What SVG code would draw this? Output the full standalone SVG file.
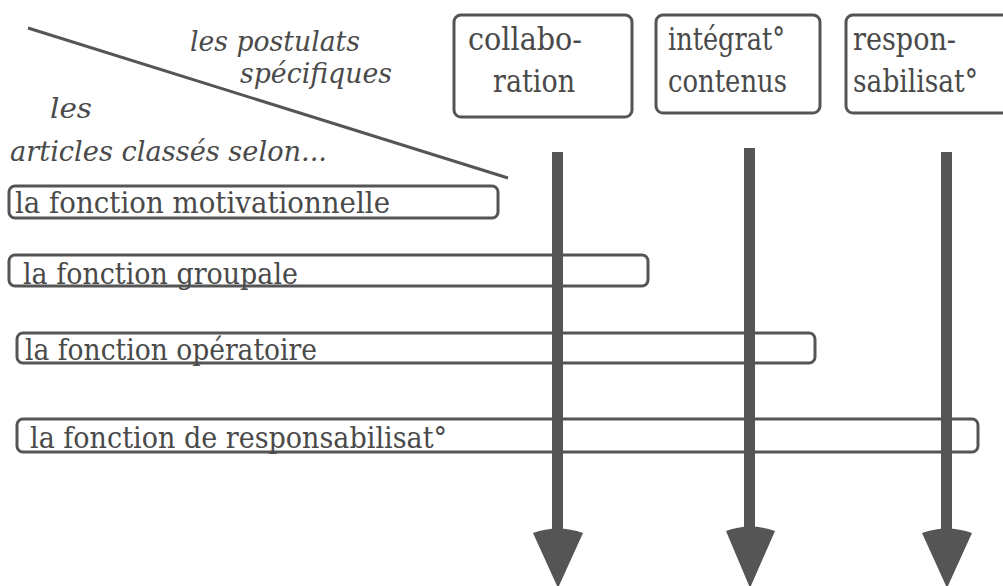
<svg xmlns="http://www.w3.org/2000/svg" width="1003" height="586" viewBox="0 0 1003 586">
<style>
.box{fill:none;stroke:#555;stroke-width:3}
text{font-family:'DejaVu Serif','Liberation Serif',serif;fill:#4a4a4a}
.f{font-size:29px}
.h{font-size:31px}
.i{font-size:28px;font-style:italic}
.shaft{fill:#555}
.head{fill:#555}
</style>
<rect width="1003" height="586" fill="#fff"/>
<g id="header">
<line x1="28" y1="28" x2="508" y2="178" stroke="#555" stroke-width="3"/>
<text class="i" x="190" y="51" textLength="170" lengthAdjust="spacingAndGlyphs">les postulats</text>
<text class="i" x="240" y="83" textLength="152" lengthAdjust="spacingAndGlyphs">spécifiques</text>
<text class="i" x="50" y="118" textLength="42" lengthAdjust="spacingAndGlyphs">les</text>
<text class="i" x="10" y="161" textLength="317" lengthAdjust="spacingAndGlyphs">articles classés selon...</text>
</g>
<g id="postulat-collaboration">
<rect class="box" x="454" y="15" width="178" height="102" rx="7"/>
<text class="h" x="468" y="50" textLength="114" lengthAdjust="spacingAndGlyphs">collabo-</text>
<text class="h" x="493" y="92" textLength="82" lengthAdjust="spacingAndGlyphs">ration</text>
</g>
<g id="postulat-integration">
<rect class="box" x="656" y="15" width="164" height="98" rx="7"/>
<text class="h" x="668" y="50" textLength="117" lengthAdjust="spacingAndGlyphs">intégrat°</text>
<text class="h" x="668" y="92" textLength="119" lengthAdjust="spacingAndGlyphs">contenus</text>
</g>
<g id="postulat-responsabilisation">
<rect class="box" x="846" y="15" width="170" height="98" rx="7"/>
<text class="h" x="853" y="50" textLength="103" lengthAdjust="spacingAndGlyphs">respon-</text>
<text class="h" x="853" y="92" textLength="125" lengthAdjust="spacingAndGlyphs">sabilisat°</text>
</g>
<g id="fonction-motivationnelle">
<rect class="box" x="9" y="186" width="489" height="32" rx="6"/>
<text class="f" x="15" y="213" textLength="375" lengthAdjust="spacingAndGlyphs">la fonction motivationnelle</text>
</g>
<g id="fonction-groupale">
<rect class="box" x="9" y="255" width="639" height="31" rx="6"/>
<text class="f" x="23" y="284" textLength="275" lengthAdjust="spacingAndGlyphs">la fonction groupale</text>
</g>
<g id="fonction-operatoire">
<rect class="box" x="17" y="333" width="798" height="30" rx="6"/>
<text class="f" x="25" y="360" textLength="292" lengthAdjust="spacingAndGlyphs">la fonction opératoire</text>
</g>
<g id="fonction-responsabilisation">
<rect class="box" x="17" y="419" width="961" height="33" rx="6"/>
<text class="f" x="30" y="448" textLength="417" lengthAdjust="spacingAndGlyphs">la fonction de responsabilisat°</text>
</g>
<g id="connectors">
<rect class="shaft" x="552" y="152" width="11" height="382"/>
<path class="head" d="M533,533 Q558,524 583,533 L558,588 Z"/>
<rect class="shaft" x="744" y="148" width="11" height="384"/>
<path class="head" d="M726,531 Q750,522 775,531 L750,588 Z"/>
<rect class="shaft" x="941" y="152" width="11" height="382"/>
<path class="head" d="M922,533 Q947,524 972,533 L947,588 Z"/>
</g>
</svg>
